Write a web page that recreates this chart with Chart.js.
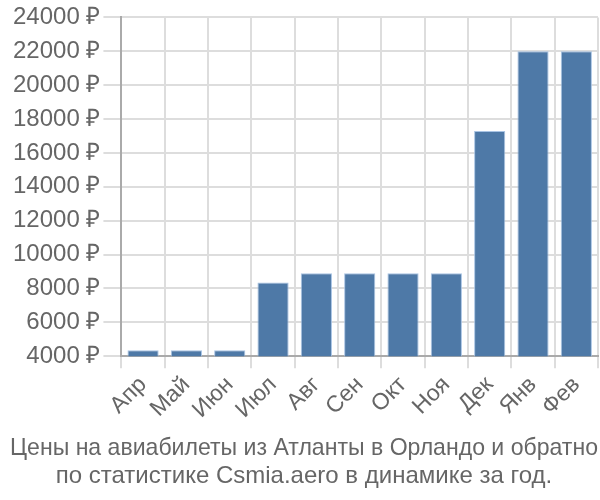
<!DOCTYPE html>
<html><head><meta charset="utf-8">
<script src="https://cdn.jsdelivr.net/npm/chart.js@4/dist/chart.umd.min.js"></script>
<style>html,body{margin:0;padding:0;background:#fff}</style>
</head><body>
<canvas id="c" width="600" height="500"></canvas>
<script>
const categories = ["Апр","Май","Июн","Июл","Авг","Сен","Окт","Ноя","Дек","Янв","Фев"];
const prices = [4350,4350,4350,8350,8900,8900,8900,8900,17300,22000,22000];
const titleLines = ["Цены на авиабилеты из Атланты в Орландо и обратно","по статистике Csmia.aero в динамике за год."];
const currency = " ₽";
const FONT = 'Liberation Sans, Arial, sans-serif';

new Chart(document.getElementById('c'), {
  type: 'bar',
  data: {
    labels: categories,
    datasets: [{
      data: prices,
      backgroundColor: '#4e79a7',
      borderColor: 'rgba(160,190,225,0.9)',
      borderWidth: 1
    }]
  },
  options: {
    responsive: false,
    animation: false,
    layout: { padding: { left: 10, right: 2 } },
    plugins: {
      legend: { display: false },
      tooltip: { enabled: false },
      title: {
        display: true,
        position: 'bottom',
        text: titleLines,
        color: '#666',
        font: { family: FONT, size: 24, weight: 'normal', lineHeight: 1.15 },
        padding: { top: 8, bottom: 10 }
      }
    },
    scales: {
      x: {
        grid: { color: '#ddd', lineWidth: 2, tickLength: 12 },
        border: { color: '#aaa', width: 2 },
        ticks: { color: '#666', maxRotation: 45, minRotation: 45, font: { family: FONT, size: 23 } }
      },
      y: {
        min: 4000, max: 24000,
        grid: { color: '#ddd', lineWidth: 2, tickLength: 18 },
        border: { color: '#aaa', width: 2 },
        ticks: { stepSize: 2000, color: '#666', font: { family: FONT, size: 24 },
          callback: v => v + currency }
      }
    }
  }
});
</script>
</body></html>
